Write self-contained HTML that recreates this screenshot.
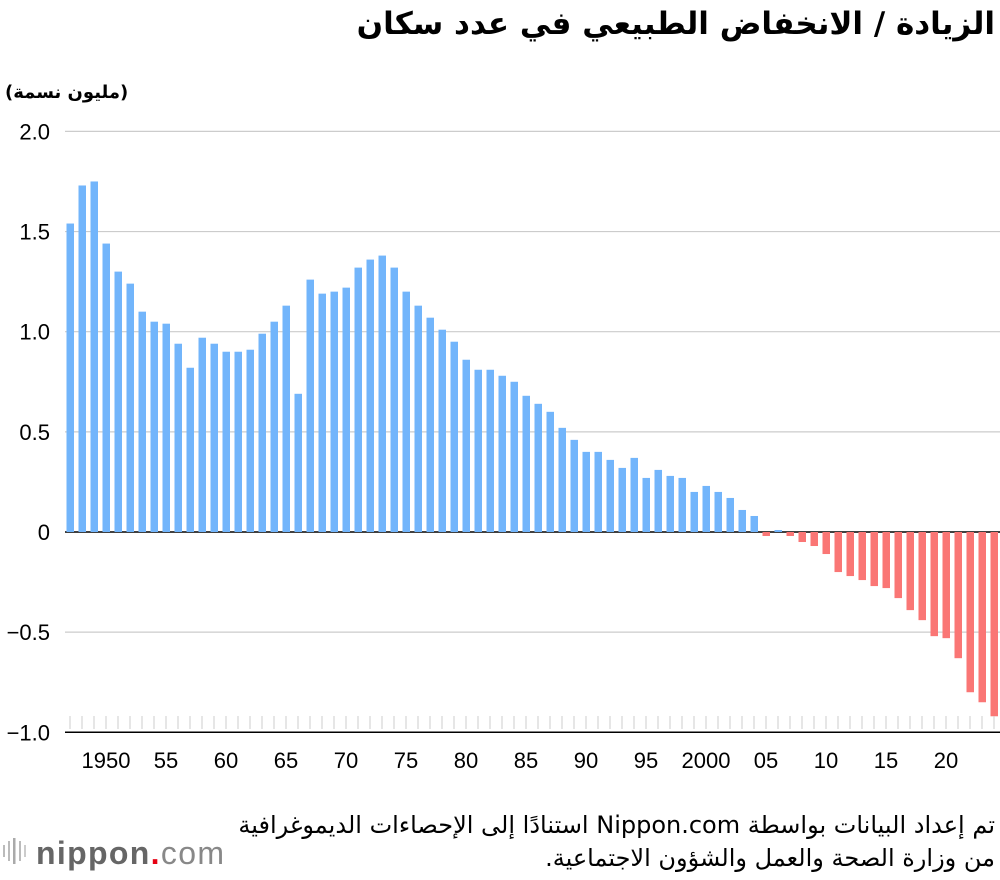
<!DOCTYPE html>
<html><head><meta charset="utf-8">
<style>
body{margin:0;background:#fff;width:1000px;height:880px;overflow:hidden;font-family:"Liberation Sans","DejaVu Sans",sans-serif;position:relative;}
svg text{font-family:"Liberation Sans","DejaVu Sans",sans-serif;}
.ar{position:absolute;direction:rtl;text-align:right;font-family:"DejaVu Sans",sans-serif;white-space:nowrap;}
</style></head><body>
<svg id="chart" width="1000" height="880" xmlns="http://www.w3.org/2000/svg" style="position:absolute;left:0;top:0">
<g id="grid"></g><g id="bars"></g><g id="ticks"></g>
<g>
<rect x="3" y="845" width="2" height="12" fill="#bbb"/><rect x="8" y="841" width="2" height="20" fill="#bbb"/><rect x="13" y="838" width="2.5" height="26" fill="#aaa"/><rect x="19" y="841" width="2" height="20" fill="#bbb"/><rect x="24" y="845" width="2" height="12" fill="#ccc"/>
<text x="36" y="864" font-size="32" font-weight="bold" fill="#666" textLength="188">nippon<tspan fill="#e60012">.</tspan><tspan font-weight="normal" fill="#888">com</tspan></text>
</g>
</svg>
<div class="ar" style="right:5px;top:6px;font-size:31px;font-weight:bold;">الزيادة / الانخفاض الطبيعي في عدد سكان</div>
<div class="ar" style="left:5px;top:82px;font-size:18px;font-weight:bold;">(مليون نسمة)</div>
<div class="ar" style="right:5px;top:811px;font-size:24px;">تم إعداد البيانات بواسطة Nippon.com استنادًا إلى الإحصاءات الديموغرافية</div>
<div class="ar" style="right:5px;top:844px;font-size:24px;">من وزارة الصحة والعمل والشؤون الاجتماعية.</div>
<script>
const years=[];for(let y=1947;y<=2024;y++)years.push(y);
const values=[1.54,1.73,1.75,1.44,1.30,1.24,1.10,1.05,1.04,0.94,0.82,0.97,0.94,0.90,0.90,0.91,0.99,1.05,1.13,0.69,1.26,1.19,1.20,1.22,1.32,1.36,1.38,1.32,1.20,1.13,1.07,1.01,0.95,0.86,0.81,0.81,0.78,0.75,0.68,0.64,0.60,0.52,0.46,0.40,0.40,0.36,0.32,0.37,0.27,0.31,0.28,0.27,0.20,0.23,0.20,0.17,0.11,0.08,-0.02,0.01,-0.02,-0.05,-0.07,-0.11,-0.20,-0.22,-0.24,-0.27,-0.28,-0.33,-0.39,-0.44,-0.52,-0.53,-0.63,-0.80,-0.85,-0.92];
const yTicks=[2.0,1.5,1.0,0.5,0,-0.5,-1.0];
const yTickLabels=["2.0","1.5","1.0","0.5","0","\u22120.5","\u22121.0"];
const xLabelYears=[1950,1955,1960,1965,1970,1975,1980,1985,1990,1995,2000,2005,2010,2015,2020];
const xLabels=["1950","55","60","65","70","75","80","85","90","95","2000","05","10","15","20"];
const NS="http://www.w3.org/2000/svg";
const y=v=>532-v*200.3;
const x=yr=>70+(yr-1947)*12;
function mk(t,a,p){const e=document.createElementNS(NS,t);for(const k in a)e.setAttribute(k,a[k]);p.appendChild(e);return e;}
const grid=document.getElementById('grid'),bars=document.getElementById('bars'),ticks=document.getElementById('ticks');
yTicks.forEach((v,i)=>{
 const l=mk('line',{x1:65,x2:1000,y1:y(v),y2:y(v),stroke:v===0||v===-1?'#000':'#ccc','stroke-width':v===0||v===-1?1.5:1.2},grid);
 
 
 const t=mk('text',{x:50,y:y(v)+8,'text-anchor':'end','font-size':22},grid);
 t.textContent=yTickLabels[i];
 
 
});
years.forEach((yr,i)=>{
 const v=values[i];
 const r=mk('rect',{x:x(yr)-3.5,width:7.5,y:Math.min(y(v),y(0)),height:Math.abs(y(v)-y(0)),fill:v>=0?'#72b5fb':'#fa7675'},bars);
 
 
 const tk=mk('line',{x1:x(yr),x2:x(yr),y1:716,y2:729,stroke:'#ccc','stroke-width':1},ticks);
 
 
});
xLabelYears.forEach((yr,i)=>{
 const t=mk('text',{x:x(yr),y:768,'text-anchor':'middle','font-size':22},ticks);
 t.textContent=xLabels[i];
 
 
});
</script>
</body></html>
